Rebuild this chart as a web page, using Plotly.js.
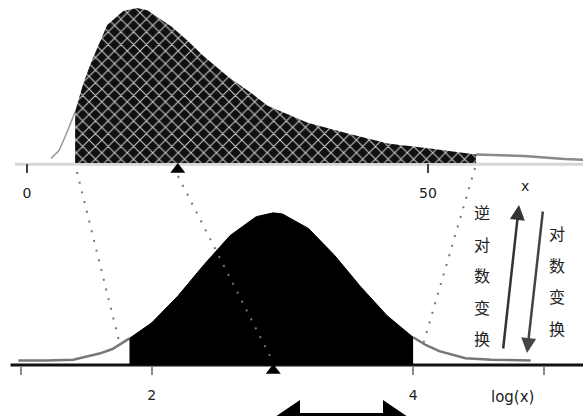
<!DOCTYPE html>
<html><head><meta charset="utf-8">
<script src="https://cdn.plot.ly/plotly-3.0.1.min.js"></script>
<style>html,body{margin:0;padding:0;background:#fff;} #chart{width:583px;height:416px;}</style>
</head><body><div id="chart"></div>
<script>
// ---- Top panel: skewed distribution of x (relative height, peak = 100) ----
const xTop = [3,4,5,6,7,8,10,12,13.7,15,18,20,22,25,28,30,35,40,45,50,54,56,62,67,70];
const yTop = [3,8,20,33,51,65,89,98,100,98.5,88,79,69,56,45,37,26,19,12.5,9.5,7,5.5,4.5,2.5,2];
const topFillFrom = 6, topFillTo = 56;
const topMedian = [18.8];
const topTickVals = [0, 50];
const topTickText = ['0', '50'];

// ---- Bottom panel: distribution of log(x) (relative height, peak = 100) ----
const xLog = [0.98,1.2,1.4,1.6,1.7,1.83,2.0,2.2,2.4,2.6,2.8,2.93,3.0,3.2,3.4,3.6,3.8,4.0,4.1,4.2,4.4,4.6,4.9];
const yLog = [3,3,3.5,7.5,10.5,17.5,27.7,45.3,65.9,85.1,97.5,100,99.3,89.7,72,51.3,32.5,18.2,13,9.1,4.5,3.5,3];
const logFillFrom = 1.83, logFillTo = 4.0;
const logMean = [2.93];
const botTickVals = [1, 2, 4, 5];
const botTickText = ['', '2', '4', ''];

const leftText = ['逆','对','数','变','换'];
const rightText = ['对','数','变','换'];

function sub(xs, ys, a, b){ const ox=[], oy=[]; xs.forEach((x,i)=>{ if(x>=a && x<=b){ox.push(x);oy.push(ys[i]);} }); return [ox,oy]; }

const [tfx, tfy] = sub(xTop, yTop, topFillFrom, topFillTo);
const [tlx, tly] = sub(xTop, yTop, -1, topFillFrom);
const [trx, try_] = sub(xTop, yTop, topFillTo, 100);
const [bfx, bfy] = sub(xLog, yLog, logFillFrom, logFillTo);
const [blx, bly] = sub(xLog, yLog, 0, logFillFrom);
const [brx, bry] = sub(xLog, yLog, logFillTo, 10);

const W = 583, H = 416;
const px = v => v / W, py = v => 1 - v / H;
function P(x, y){ return (x/W).toFixed(5) + ',' + (1 - y/H).toFixed(5); }

const traces = [
  {x: tlx, y: tly, xaxis:'x', yaxis:'y', mode:'lines', line:{color:'#9a9a9a', width:1.5}, hoverinfo:'skip'},
  {x: trx, y: try_, xaxis:'x', yaxis:'y', mode:'lines', line:{color:'#8a8a8a', width:2.5}, hoverinfo:'skip'},
  {x: tfx, y: tfy, xaxis:'x', yaxis:'y', mode:'lines', fill:'tozeroy', fillcolor:'#2a2a2a',
   fillpattern:{shape:'x', fgcolor:'#c8c8c8', bgcolor:'#101010', size:9, solidity:0.22},
   line:{color:'rgba(0,0,0,0)', width:0}, hoverinfo:'skip'},
  {x: topMedian, y:[-4.2], xaxis:'x', yaxis:'y', mode:'markers',
   marker:{symbol:'triangle-up', size:13, color:'#000'}, hoverinfo:'skip'},
  {x: blx, y: bly, xaxis:'x2', yaxis:'y2', mode:'lines', line:{color:'#777', width:2.5}, hoverinfo:'skip'},
  {x: brx, y: bry, xaxis:'x2', yaxis:'y2', mode:'lines', line:{color:'#777', width:2.5}, hoverinfo:'skip'},
  {x: bfx, y: bfy, xaxis:'x2', yaxis:'y2', mode:'lines', fill:'tozeroy', fillcolor:'#000',
   line:{color:'#000', width:1}, hoverinfo:'skip'},
  {x: logMean, y:[-3.6], xaxis:'x2', yaxis:'y2', mode:'markers',
   marker:{symbol:'triangle-up', size:13, color:'#000'}, hoverinfo:'skip'}
];

const tickFont = {family:'DejaVu Sans, sans-serif', size:14, color:'#222'};

const shapes = [
  {type:'line', xref:'x', yref:'y', x0:-1.5, x1:70, y0:-0.8, y1:-0.8, layer:'below', line:{color:'#d6d6d6', width:3}},
  {type:'line', xref:'x2', yref:'y2', x0:0.92, x1:5.4, y0:0, y1:0, layer:'below', line:{color:'#111', width:3}},
  // connectors between the panels
  {type:'line', xref:'paper', yref:'paper', x0:px(77), y0:py(172), x1:px(120), y1:py(345), line:{color:'#777', width:2, dash:'2px,8px'}},
  {type:'line', xref:'paper', yref:'paper', x0:px(178), y0:py(176), x1:px(273), y1:py(362), line:{color:'#777', width:2, dash:'2px,8px'}},
  {type:'line', xref:'paper', yref:'paper', x0:px(475), y0:py(168), x1:px(422), y1:py(348), line:{color:'#777', width:2, dash:'2px,8px'}},
  // bottom double arrow (partly cut off)
  {type:'path', xref:'paper', yref:'paper', path:'M'+P(272,419)+'L'+P(300,400)+'L'+P(300,440)+'Z', fillcolor:'#000', line:{width:0}},
  {type:'path', xref:'paper', yref:'paper', path:'M'+P(411,419)+'L'+P(383,400)+'L'+P(383,440)+'Z', fillcolor:'#000', line:{width:0}},
  {type:'rect', xref:'paper', yref:'paper', x0:px(299), x1:px(384), y0:py(413), y1:py(430), fillcolor:'#000', line:{width:0}}
];

const annotations = [];
leftText.forEach((c,i)=>annotations.push({xref:'paper', yref:'paper', x:px(482), y:py(212 + i*31.5), text:c, showarrow:false,
  xanchor:'center', yanchor:'middle', font:{family:'Noto Sans CJK SC', size:16, color:'#222'}}));
rightText.forEach((c,i)=>annotations.push({xref:'paper', yref:'paper', x:px(557), y:py(233 + i*31.5), text:c, showarrow:false,
  xanchor:'center', yanchor:'middle', font:{family:'Noto Sans CJK SC', size:16, color:'#222'}}));
annotations.push({xref:'paper', yref:'paper', x:px(519), y:py(205), ax:-16, ay:145, axref:'pixel', ayref:'pixel', text:'', showarrow:true,
  arrowhead:2, arrowsize:1.2, arrowwidth:2.5, arrowcolor:'#333'});
annotations.push({xref:'paper', yref:'paper', x:px(527), y:py(353), ax:16, ay:-143, axref:'pixel', ayref:'pixel', text:'', showarrow:true,
  arrowhead:2, arrowsize:1.2, arrowwidth:2.5, arrowcolor:'#444'});
annotations.push({xref:'paper', yref:'paper', x:px(525), y:py(186), text:'x', showarrow:false, xanchor:'center', yanchor:'middle', font:tickFont});
annotations.push({xref:'paper', yref:'paper', x:px(512), y:py(397), text:'log(x)', showarrow:false, xanchor:'center', yanchor:'middle', font:{family:'DejaVu Sans, sans-serif', size:15, color:'#222'}});

const layout = {
  width: W, height: H, margin:{l:0, r:0, t:0, b:0}, showlegend:false,
  paper_bgcolor:'#fff', plot_bgcolor:'rgba(0,0,0,0)',
  xaxis:{domain:[0,1], range:[-27/8.02, 556/8.02], anchor:'free', position:253/416, tickmode:'array', tickvals:topTickVals, ticktext:topTickText,
    ticks:'outside', ticklen:9, tickwidth:2, tickcolor:'#444', showline:false, zeroline:false, showgrid:false,
    tickfont:tickFont, ticklabelstandoff:8, fixedrange:true},
  yaxis:{domain:[241/416, 1], range:[-12*100/155, 105.16], visible:false, fixedrange:true},
  xaxis2:{domain:[0,1], range:[1-21/130.7, 1+562/130.7], anchor:'free', position:51/416, tickmode:'array', tickvals:botTickVals, ticktext:botTickText,
    ticks:'outside', ticklen:9, tickwidth:2, tickcolor:'#888', showline:false, zeroline:false, showgrid:false,
    tickfont:tickFont, ticklabelstandoff:8, fixedrange:true},
  yaxis2:{domain:[39/416, 229/416], range:[-12*100/152, 117], visible:false, fixedrange:true},
  shapes: shapes, annotations: annotations
};

Plotly.newPlot('chart', traces, layout, {staticPlot:true, displayModeBar:false});
</script></body></html>
